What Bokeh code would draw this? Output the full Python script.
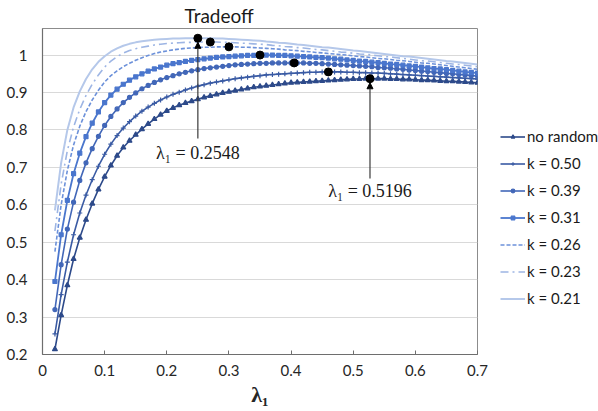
from bokeh.plotting import figure
from bokeh.models import (Range1d, FixedTicker, CustomJSTickFormatter, Legend,
                          LegendItem, Arrow, NormalHead, Label)
from bokeh.embed import file_html
from bokeh.resources import INLINE

# ---------------- data ----------------
lam = [0.02, 0.03, 0.04, 0.05, 0.06, 0.07, 0.08, 0.09, 0.10, 0.11,
       0.12, 0.13, 0.14, 0.15, 0.16, 0.17, 0.18, 0.19, 0.20, 0.21,
       0.22, 0.23, 0.24, 0.25, 0.26, 0.27, 0.28, 0.29, 0.30, 0.31,
       0.32, 0.33, 0.34, 0.35, 0.36, 0.37, 0.38, 0.39, 0.40, 0.41,
       0.42, 0.43, 0.44, 0.45, 0.46, 0.47, 0.48, 0.49, 0.50, 0.51,
       0.52, 0.53, 0.54, 0.55, 0.56, 0.57, 0.58, 0.59, 0.60, 0.61,
       0.62, 0.63, 0.64, 0.65, 0.66, 0.67, 0.68, 0.69, 0.70]

no_random = [.214, .305, .385, .455, .512, .560, .603, .641, .675, .705,
             .731, .753, .771, .787, .802, .816, .829, .841, .851, .859,
             .866, .872, .877, .882, .887, .891, .895, .899, .902, .905,
             .908, .911, .914, .916, .918, .920, .922, .924, .926, .927,
             .928, .929, .930, .931, .932, .933, .934, .935, .936, .936,
             .937, .937, .937, .937, .936, .936, .935, .935, .934, .933,
             .933, .932, .931, .930, .930, .929, .928, .927, .926]

k_050 = [.255, .360, .447, .520, .578, .626, .667, .703, .735, .762,
         .785, .805, .822, .837, .850, .861, .871, .880, .888, .895,
         .901, .907, .912, .917, .921, .925, .928, .931, .934, .937,
         .939, .941, .943, .945, .947, .948, .949, .950, .951, .952,
         .953, .954, .954, .955, .955, .955, .955, .954, .954, .953,
         .953, .952, .952, .951, .950, .949, .948, .947, .946, .945,
         .944, .943, .942, .941, .940, .939, .938, .937, .936]

k_039 = [.320, .440, .535, .607, .665, .712, .750, .783, .812, .836,
         .856, .873, .887, .899, .910, .919, .927, .934, .940, .945,
         .950, .954, .958, .961, .964, .966, .968, .970, .972, .974,
         .975, .976, .977, .978, .978, .979, .979, .979, .979, .979,
         .979, .978, .978, .977, .976, .975, .974, .973, .972, .971,
         .970, .969, .967, .966, .965, .963, .962, .960, .959, .957,
         .956, .954, .953, .951, .950, .948, .947, .945, .944]

k_031 = [.395, .520, .612, .683, .738, .782, .818, .848, .873, .893,
         .909, .922, .933, .942, .950, .957, .963, .968, .973, .977,
         .980, .983, .986, .988, .990, .992, .994, .995, .996, .997,
         .998, .999, .999, 1.000, 1.000, 1.000, .999, .999, .998, .997,
         .996, .995, .994, .993, .992, .990, .989, .987, .986, .984,
         .983, .981, .980, .978, .976, .975, .973, .971, .970, .968,
         .966, .964, .963, .961, .959, .957, .955, .954, .952]

k_026 = [.475, .600, .692, .760, .810, .849, .880, .906, .928, .945,
         .958, .969, .978, .986, .993, .999, 1.004, 1.008, 1.011, 1.014,
         1.016, 1.018, 1.019, 1.020, 1.021, 1.021, 1.022, 1.022, 1.022, 1.022,
         1.021, 1.021, 1.020, 1.019, 1.018, 1.017, 1.016, 1.014, 1.013, 1.012,
         1.010, 1.009, 1.007, 1.006, 1.004, 1.003, 1.001, 1.000, .998, .996,
         .995, .993, .991, .990, .988, .986, .985, .983, .981, .979,
         .978, .976, .974, .972, .970, .968, .966, .964, .962]

k_023 = [.530, .655, .745, .808, .855, .892, .922, .947, .968, .984,
         .996, 1.005, 1.012, 1.017, 1.021, 1.024, 1.027, 1.029, 1.031, 1.032,
         1.033, 1.034, 1.034, 1.035, 1.035, 1.035, 1.035, 1.034, 1.034, 1.033,
         1.032, 1.031, 1.030, 1.029, 1.028, 1.026, 1.025, 1.023, 1.022, 1.020,
         1.019, 1.017, 1.015, 1.014, 1.012, 1.010, 1.008, 1.007, 1.005, 1.003,
         1.002, 1.000, .998, .996, .995, .993, .991, .989, .987, .985,
         .984, .982, .980, .978, .976, .975, .973, .971, .969]

k_021 = [.585, .712, .800, .860, .903, .936, .962, .982, .997, 1.009,
         1.018, 1.025, 1.030, 1.034, 1.037, 1.039, 1.041, 1.042, 1.043, 1.044,
         1.044, 1.045, 1.045, 1.045, 1.045, 1.045, 1.044, 1.044, 1.043, 1.042,
         1.041, 1.040, 1.039, 1.038, 1.036, 1.035, 1.033, 1.032, 1.030, 1.028,
         1.027, 1.025, 1.023, 1.021, 1.020, 1.018, 1.016, 1.014, 1.012, 1.011,
         1.009, 1.007, 1.005, 1.003, 1.001, .999, .997, .996, .994, .992,
         .990, .988, .986, .984, .983, .981, .979, .977, .975]

series_names = ["no random", "k = 0.50", "k = 0.39", "k = 0.31",
                "k = 0.26", "k = 0.23", "k = 0.21"]

peak_x = [0.25, 0.27, 0.30, 0.35, 0.405, 0.46, 0.527]
peak_y = [1.045, 1.035, 1.022, 1.000, 0.979, 0.955, 0.937]

x_ticks = [0, 0.1, 0.2, 0.3, 0.4, 0.5, 0.6, 0.7]
y_ticks = [0.2, 0.3, 0.4, 0.5, 0.6, 0.7, 0.8, 0.9, 1.0]

annot_labels = ["λ₁ = 0.2548", "λ₁ = 0.5196"]

# ---------------- styles ----------------
styles = [
    dict(color="#2d4a8a", dash="solid", width=1.6, marker="triangle", msize=5),
    dict(color="#3a5ba4", dash="solid", width=1.6, marker="cross", msize=5),
    dict(color="#4267b8", dash="solid", width=1.6, marker="circle", msize=4),
    dict(color="#4a76cd", dash="solid", width=1.8, marker="square", msize=4),
    dict(color="#6c91da", dash="4 2", width=1.6, marker=None, msize=0),
    dict(color="#9db5e4", dash="8 4 2 4", width=1.6, marker=None, msize=0),
    dict(color="#b5c8ea", dash="solid", width=2.0, marker=None, msize=0),
]
all_series = [no_random, k_050, k_039, k_031, k_026, k_023, k_021]

FONT = "Lato"
SERIF = "Liberation Serif"

p = figure(frame_width=435, frame_height=326,
           min_border_left=42, min_border_right=121,
           min_border_top=27, min_border_bottom=58,
           x_range=Range1d(0, 0.7), y_range=Range1d(0.2, 1.071),
           output_backend="svg", toolbar_location=None, tools="")

p.outline_line_color = "#8c8c8c"
p.outline_line_width = 1
p.xgrid.visible = False
p.ygrid.grid_line_color = "#d9d9d9"
p.ygrid.grid_line_width = 1

# title
p.title.text = "Tradeoff"
p.title.align = "left"
p.title.offset = 142
p.title.text_font = FONT
p.title.text_font_size = "19px"
p.title.text_font_style = "normal"
p.title.text_color = "#1a1a1a"
p.title.standoff = 3

fmt = CustomJSTickFormatter(code="return String(Number(tick.toFixed(2)));")
p.xaxis.ticker = FixedTicker(ticks=x_ticks)
p.yaxis.ticker = FixedTicker(ticks=y_ticks)
p.xaxis.formatter = fmt
p.yaxis.formatter = fmt
for ax in (p.xaxis[0], p.yaxis[0]):
    ax.axis_line_color = "#6e6e6e"
    ax.axis_line_width = 1.2
    ax.minor_tick_line_color = None
    ax.major_label_text_font = FONT
    ax.major_label_text_font_size = "15px"
    ax.major_label_text_color = "#262626"
p.yaxis.major_tick_line_color = None
p.yaxis.major_label_standoff = 9
p.xaxis.major_tick_in = 4
p.xaxis.major_tick_out = 0
p.xaxis.major_tick_line_color = "#6e6e6e"
p.xaxis.major_label_standoff = 10
p.xaxis.axis_label = "λ₁"
p.xaxis.axis_label_text_font = SERIF
p.xaxis.axis_label_text_font_size = "22px"
p.xaxis.axis_label_text_font_style = "bold"
p.xaxis.axis_label_text_color = "#262626"
p.xaxis.axis_label_standoff = 3

items = []
for name, ys, st in zip(series_names, all_series, styles):
    rs = []
    r = p.line(lam, ys, line_color=st["color"], line_width=st["width"],
               line_dash=st["dash"])
    rs.append(r)
    if st["marker"]:
        m = p.scatter(lam, ys, marker=st["marker"], size=st["msize"],
                      line_color=st["color"], fill_color=st["color"],
                      line_width=1.2)
        rs.append(m)
    items.append(LegendItem(label=name, renderers=rs))

# peak points
p.scatter(peak_x, peak_y, size=8, color="black")

# arrows and annotations
for (ax_i, ly_start, ly_text), txt in zip([(0, 0.777, 0.739), (6, 0.670, 0.638)],
                                          annot_labels):
    p.add_layout(Arrow(x_start=peak_x[ax_i], y_start=ly_start,
                       x_end=peak_x[ax_i], y_end=peak_y[ax_i] - 0.011,
                       line_color="#3a3a3a", line_width=1.2,
                       end=NormalHead(size=6, fill_color="black",
                                      line_color="black", line_width=1)))
    p.add_layout(Label(x=peak_x[ax_i], y=ly_text, text=txt,
                       text_align="center", text_baseline="middle",
                       text_font=SERIF, text_font_size="18px",
                       text_color="#1a1a1a"))

legend = Legend(items=items, location=(23, 46),
                label_text_font=FONT, label_text_font_size="15px",
                label_text_color="#1a1a1a",
                glyph_width=25, glyph_height=9, label_height=20,
                spacing=7, padding=0, margin=0, label_standoff=2,
                border_line_color=None, background_fill_alpha=0)
p.add_layout(legend, "right")

open("out.html", "w").write(file_html(p, INLINE))
